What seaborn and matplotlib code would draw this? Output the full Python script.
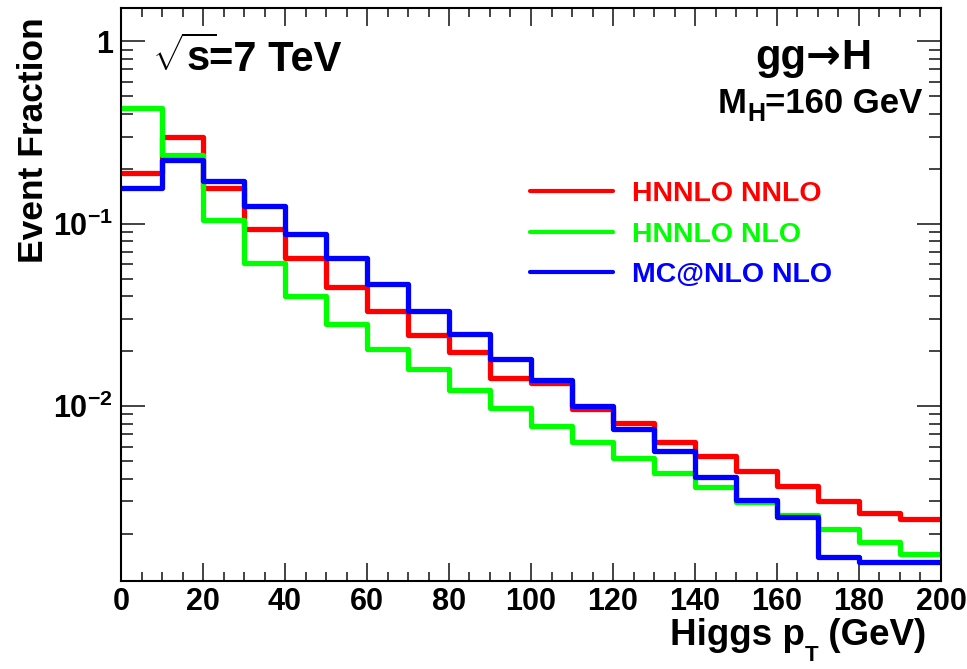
import matplotlib
matplotlib.use("Agg")
import matplotlib.pyplot as plt
import seaborn as sns
import pandas as pd
from matplotlib.lines import Line2D
from matplotlib.ticker import LogLocator, MultipleLocator, FixedLocator, FixedFormatter, NullFormatter

# Higgs pT binning (GeV)
bin_edges = list(range(0, 210, 10))
pt_centers = [e + 5 for e in bin_edges[:-1]]

# Event fraction per 10 GeV bin
hnnlo_nnlo = [0.190, 0.299, 0.157, 0.0930, 0.0645, 0.0452, 0.0333, 0.0245, 0.0198, 0.0142,
              0.0133, 0.00964, 0.00809, 0.00637, 0.00532, 0.00442, 0.00366, 0.00302, 0.00259, 0.00241]
hnnlo_nlo = [0.433, 0.239, 0.105, 0.0609, 0.0402, 0.0281, 0.0205, 0.0159, 0.0123, 0.00971,
             0.00777, 0.00637, 0.00519, 0.00430, 0.00359, 0.00298, 0.00252, 0.00211, 0.00180, 0.00154]
mcatnlo_nlo = [0.157, 0.222, 0.172, 0.125, 0.0872, 0.0645, 0.0464, 0.0333, 0.0248, 0.0181,
               0.0139, 0.0100, 0.00748, 0.00567, 0.00407, 0.00304, 0.00247, 0.00148, 0.00139, 0.00139]

series_labels = ["HNNLO NNLO", "HNNLO NLO", "MC@NLO NLO"]
series_values = [hnnlo_nnlo, hnnlo_nlo, mcatnlo_nlo]
series_colors = ["#ff0000", "#00ff00", "#0000ff"]

y_tick_values = [0.01, 0.1, 1]
y_tick_labels = ["$\\mathbf{10^{-2}}$", "$\\mathbf{10^{-1}}$", "1"]
x_tick_values = list(range(0, 201, 20))

sns.set_theme(style="ticks")
plt.rcParams["font.family"] = ["Liberation Sans", "DejaVu Sans"]
plt.rcParams["font.weight"] = "bold"
plt.rcParams["text.color"] = "black"
plt.rcParams["xtick.color"] = "black"
plt.rcParams["ytick.color"] = "black"
plt.rcParams["mathtext.fontset"] = "custom"
plt.rcParams["mathtext.rm"] = "Liberation Sans:bold"
plt.rcParams["mathtext.it"] = "Liberation Sans:bold:italic"
plt.rcParams["mathtext.bf"] = "Liberation Sans:bold"

W, H = 967, 669
fig = plt.figure(figsize=(W / 100, H / 100), dpi=100)
fig.patch.set_facecolor("white")
ax = fig.add_axes([121 / W, 1 - 581 / H, (941 - 121) / W, (581 - 8) / H])
ax.set_facecolor("white")

frames = []
for label, values in zip(series_labels, series_values):
    frames.append(pd.DataFrame({"pt": pt_centers, "fraction": values, "sample": label}))
df = pd.concat(frames, ignore_index=True)

for label, color in zip(series_labels, series_colors):
    sub = df[df["sample"] == label]
    sns.histplot(data=sub, x="pt", weights="fraction", bins=bin_edges,
                 element="step", fill=False, color=color, linewidth=3.8,
                 ax=ax, legend=False)

ax.set_yscale("log")
ax.set_xlim(0, 200)
ax.set_ylim(0.0011, 1.52)
ax.set_xlabel("")
ax.set_ylabel("")

for sp in ax.spines.values():
    sp.set_visible(True)
    sp.set_linewidth(1.5)
    sp.set_color("black")

ax.xaxis.set_major_locator(FixedLocator(x_tick_values))
ax.xaxis.set_minor_locator(MultipleLocator(5))
ax.yaxis.set_major_locator(FixedLocator(y_tick_values))
ax.yaxis.set_major_formatter(FixedFormatter(y_tick_labels))
ax.yaxis.set_minor_locator(LogLocator(base=10, subs=[2, 3, 4, 5, 6, 7, 8, 9], numticks=20))
ax.yaxis.set_minor_formatter(NullFormatter())

ax.tick_params(axis="both", which="both", direction="in", top=True, right=True,
               color="#222222", width=1.2)
ax.tick_params(axis="x", which="major", length=13, labelsize=22, pad=4)
ax.tick_params(axis="x", which="minor", length=6.5)
ax.tick_params(axis="y", which="major", length=17, labelsize=22, pad=6)
ax.tick_params(axis="y", which="minor", length=8.5)
for lbl in ax.get_xticklabels() + ax.get_yticklabels():
    lbl.set_fontweight("bold")

renderer = fig.canvas.get_renderer()


def text_run(pieces, x0, default_baseline):
    """Lay out text pieces one after another along a line (pixel coordinates from top-left).

    Each piece is (text, fontsize, baseline or None, x shift in px, extra text kwargs).
    """
    x = x0
    for txt, size, baseline_px, dx, extra in pieces:
        base = default_baseline if baseline_px is None else baseline_px
        x += dx
        t = fig.text(x / W, 1 - base / H, txt, ha="left", va="baseline",
                     fontsize=size, fontweight="bold", **extra)
        bb = t.get_window_extent(renderer)
        x = bb.x1


# Axis titles, aligned to the end of each axis
fig.text(43 / W, 1 - 140 / H, "Event Fraction", rotation=90, rotation_mode="anchor",
         ha="center", va="baseline", fontsize=25.5, fontweight="bold")
text_run([("Higgs p", 26.5, None, 0, {}), ("T", 16, 661, 0, {}),
          (" (GeV)", 26.5, None, 0, {})], 670, 645)

# Annotations
text_run([(r"$\sqrt{\mathbf{s}}$", 30, None, 0, {}), ("=7 TeV", 30, None, -8, {})], 152, 71)
text_run([("gg", 30, None, 0, {}), ("\u2192", 30, None, 0, {"family": ["DejaVu Sans"]}),
          ("H", 30, None, 0, {})], 755, 69)
text_run([("M", 25, None, 0, {}), ("H", 18, 121, 0, {}), ("=160 GeV", 25, None, 0, {})],
         718, 113)

handles = [Line2D([0], [0], color=c, lw=3) for c in series_colors]
leg = ax.legend(handles, series_labels, loc="center left",
                bbox_to_anchor=(530 / W, 1 - 234.5 / H), bbox_transform=fig.transFigure,
                frameon=False, handlelength=2.9, handletextpad=0.7,
                labelspacing=0.5, borderpad=0, borderaxespad=0, labelcolor="linecolor",
                prop={"size": 20.5, "weight": "bold"})

fig.savefig("out.png", dpi=100, facecolor="white")
